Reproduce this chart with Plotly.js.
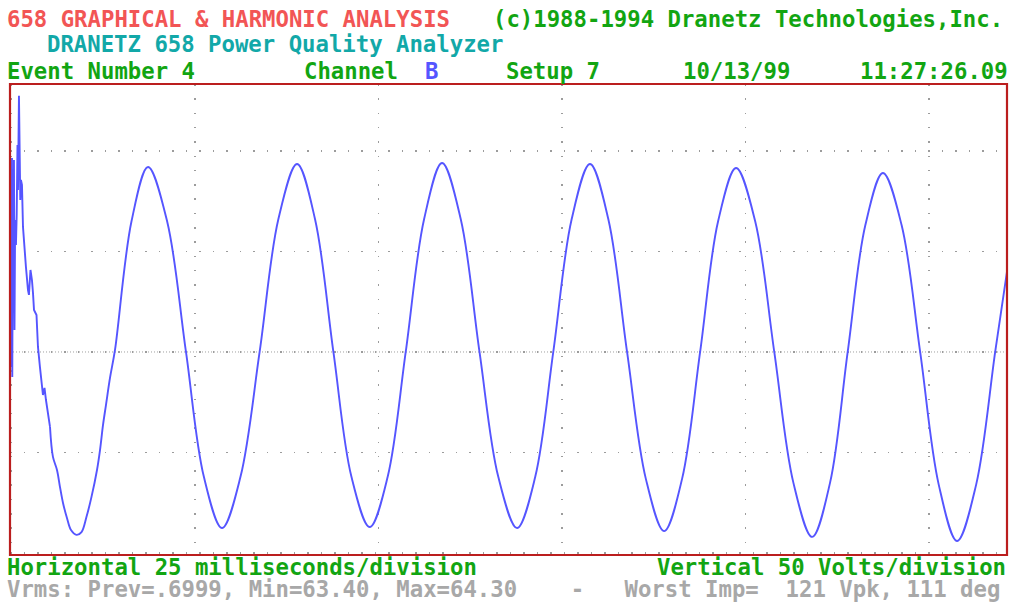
<!DOCTYPE html>
<html>
<head>
<meta charset="utf-8">
<script src="https://cdn.plot.ly/plotly-3.0.1.min.js"></script>
<style>
  html, body { margin: 0; padding: 0; background: #ffffff; }
  #chart { width: 1010px; height: 605px; }
</style>
</head>
<body>
<div id="chart"></div>
<script>
// ---- Data (time in ms, voltage in V) ----
// Turn-on transient at the start of the capture
const transientTime  = [0, 0.07, 0.11, 0.18, 0.25, 0.34, 0.41, 0.50, 0.61, 0.71, 0.82, 0.89, 1.02, 1.09, 1.20, 1.29, 1.43, 1.57, 1.77, 1.97, 2.25, 2.38, 2.59, 2.79, 2.93, 3.07, 3.41, 3.61, 3.88, 4.16, 4.29, 4.50, 4.70, 5.25];
const transientVolts = [-7.5, 96.5, -12.4, 60.7, 25.9, 95.5, 10.9, 65.7, 53.2, 68.2, 103.0, 80.6, 127.4, 83.1, 75.6, 85.6, 83.1, 62.2, 50.7, 42.3, 30.8, 28.4, 40.8, 35.8, 29.4, 20.9, 18.4, 2.5, -7.5, -17.4, -21.4, -17.9, -23.9, -37.3];

// Steady-state waveform
const waveTime  = [5.25, 5.65, 6.20, 6.61, 7.02, 7.56, 8.11, 8.86, 9.54, 10.21, 10.90, 11.65, 12.06, 12.47, 12.87, 13.42, 14.10,
                   16.35, 18.6, 21.2, 23.77, 26.2, 28.68, 31.2, 33.8,
                   36.35, 38.9, 41.35, 43.85, 46.3, 48.8, 51.25, 53.7,
                   56.2, 58.65, 61.2, 63.75, 66.3, 68.87, 71.35, 73.8,
                   76.3, 78.8, 81.3, 83.85, 86.4, 88.9, 91.35, 93.8,
                   96.25, 98.7, 101.3, 103.9, 106.5, 109.06, 111.5, 113.9,
                   116.3, 118.7, 121.25, 123.77, 126.3, 128.8, 131.4, 133.99, 135.6];
const waveVolts = [-37.3, -52.2, -58.7, -67.2, -75.1, -82.6, -88.6, -91.0, -89.6, -82.1, -72.1, -58.7, -48.8, -36.3, -26.4, -12.9, 1.0,
                   65, 92.0, 65, 0, -62, -87.6, -62, 0,
                   66, 93.5, 66, 0, -62, -87.1, -62, 0,
                   66, 94.0, 66, 0, -62, -87.6, -62, 0,
                   66, 93.5, 66, 0, -63, -89.1, -63, 0,
                   65, 91.5, 65, 0, -65, -92.0, -65, 0,
                   63, 89.0, 63, 0, -66, -94.0, -66, 0, 40];

const msPerDivision = 25;
const voltsPerDivision = 50;

// ---- Texts ----
const titleLeft   = "658 GRAPHICAL & HARMONIC ANALYSIS";
const titleRight  = "(c)1988-1994 Dranetz Technologies,Inc.";
const subtitle    = "DRANETZ 658 Power Quality Analyzer";
const eventLabel  = "Event Number 4";
const channelLbl  = "Channel";
const channelVal  = "B";
const setupLabel  = "Setup 7";
const dateLabel   = "10/13/99";
const timeLabel   = "11:27:26.09";
const horizLabel  = "Horizontal 25 milliseconds/division";
const vertLabel   = "Vertical 50 Volts/division";
const statusLabel = "Vrms: Prev=.6999, Min=63.40, Max=64.30\u00A0\u00A0\u00A0\u00A0-\u00A0\u00A0\u00A0Worst Imp=\u00A0\u00A0121 Vpk, 111 deg";

// ---- Styling / layout ----
const W = 1010, H = 605;
const M = {l: 10, r: 3, t: 84, b: 50};
const PW = W - M.l - M.r, PH = H - M.t - M.b;
const FONT = "DejaVu Sans Mono, Liberation Mono, monospace";
const FS = 22.3;
const RED = "#f25555", GREEN = "#12a512", TEAL = "#12a8a8", BLUE = "#5555ff", GRAY = "#a8a8a8";

function ann(text, X, Y, color, anchor) {
  return {
    text: text, xref: "paper", yref: "paper",
    x: (X - M.l) / PW, y: (H - M.b - Y) / PH,
    xanchor: anchor || "left", yanchor: "middle",
    showarrow: false, borderpad: 0, borderwidth: 0,
    font: {family: FONT, size: FS, color: color, weight: "bold"}
  };
}

const traces = [
  {x: transientTime, y: transientVolts, type: "scatter", mode: "lines",
   line: {color: BLUE, width: 1.9, shape: "linear"}, hoverinfo: "skip"},
  {x: waveTime, y: waveVolts, type: "scatter", mode: "lines",
   line: {color: BLUE, width: 1.9, shape: "spline", smoothing: 1}, hoverinfo: "skip"}
];

const layout = {
  width: W, height: H,
  margin: {l: M.l, r: M.r, t: M.t, b: M.b, pad: 0},
  paper_bgcolor: "#ffffff", plot_bgcolor: "#ffffff",
  showlegend: false,
  xaxis: {
    range: [-0.2, 135.6], tick0: 0, dtick: msPerDivision,
    showgrid: true, gridcolor: "#9c9c9c", gridwidth: 1.5, griddash: "1.5px,12.8px",
    zeroline: false, showticklabels: false, ticks: "", showline: false, automargin: false
  },
  yaxis: {
    range: [-101.0, 133.3], tick0: 0, dtick: voltsPerDivision,
    showgrid: true, gridcolor: "#9c9c9c", gridwidth: 1.5, griddash: "1.5px,12px",
    zeroline: false, showticklabels: false, ticks: "", showline: false, automargin: false
  },
  shapes: [
    {type: "line", xref: "paper", yref: "y", x0: 0, x1: 1, y0: 0, y1: 0,
     line: {color: "#a0a0a0", width: 1, dash: "1px,2px"}, layer: "below"},
    {type: "rect", xref: "paper", yref: "paper", x0: 0, x1: 1, y0: 0, y1: 1,
     line: {color: "#bb1e1e", width: 2.2}, layer: "above"}
  ],
  annotations: [
    ann(titleLeft, 7, 19, RED),
    ann(titleRight, 493, 19, GREEN),
    ann(subtitle, 47, 44, TEAL),
    ann(eventLabel, 7, 70.8, GREEN),
    ann(channelLbl, 304, 70.8, GREEN),
    ann(channelVal, 425, 70.8, BLUE),
    ann(setupLabel, 506, 70.8, GREEN),
    ann(dateLabel, 683, 70.8, GREEN),
    ann(timeLabel, 860, 70.8, GREEN),
    ann(horizLabel, 7, 567.2, GREEN),
    ann(vertLabel, 1006, 567.2, GREEN, "right"),
    ann(statusLabel, 7, 588.8, GRAY)
  ]
};

Plotly.newPlot("chart", traces, layout, {staticPlot: true, displayModeBar: false});
</script>
</body>
</html>
